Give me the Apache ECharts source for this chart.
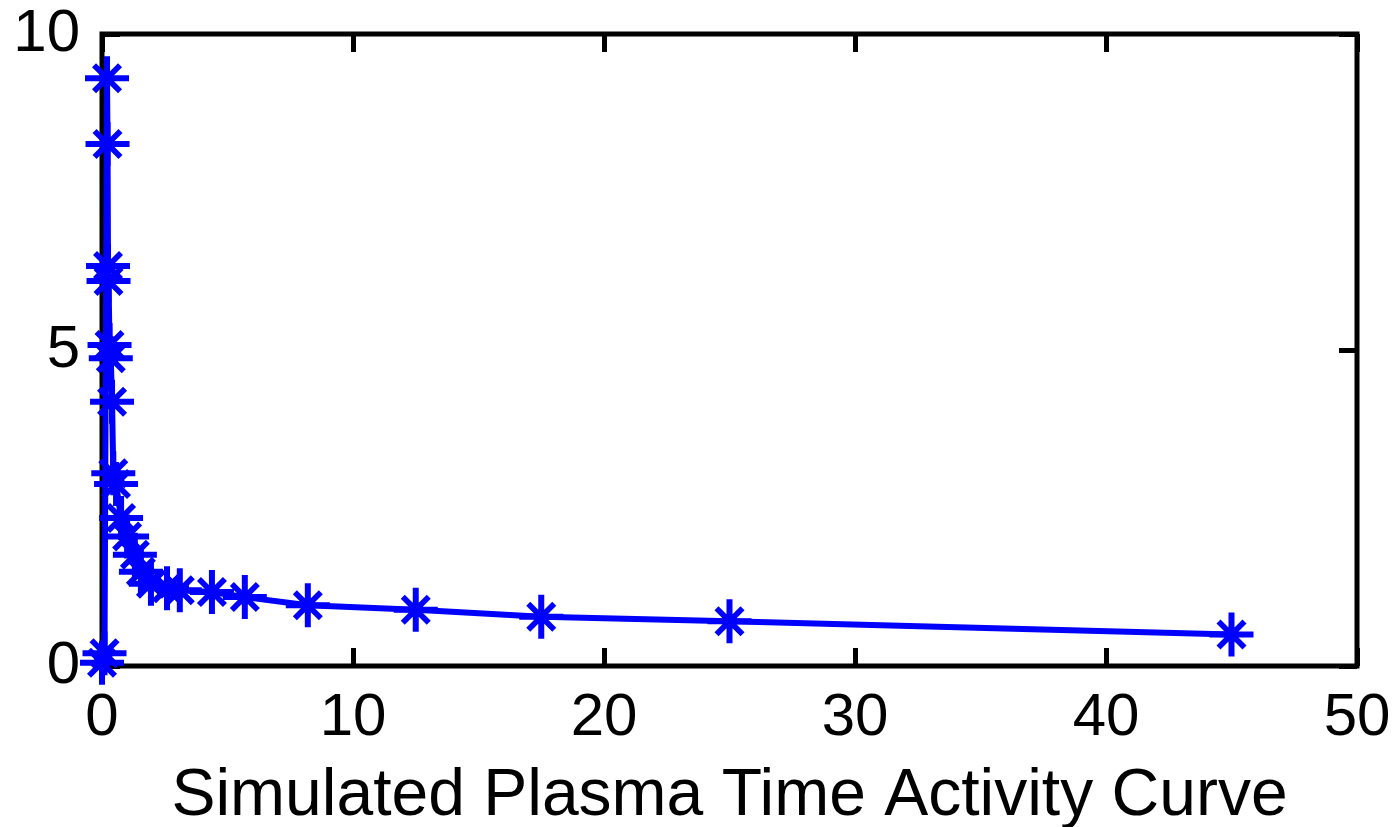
<!DOCTYPE html>
<html>
<head>
<meta charset="utf-8">
<script src="https://cdn.jsdelivr.net/npm/echarts@6/dist/echarts.min.js"></script>
<style>
html,body{margin:0;padding:0;background:#fff;}
#chart{width:1397px;height:827px;}
</style>
</head>
<body>
<div id="chart"></div>
<script>
// Sample times (minutes) and plasma activity values
const timeMin = [0, 0.1, 0.2, 0.22, 0.24, 0.26, 0.3, 0.35, 0.4, 0.45, 0.56, 0.76, 1.0, 1.31, 1.55, 1.95, 2.59, 3.1, 4.38, 5.69, 8.2, 12.5, 17.5, 25, 45];
const activity = [0.05, 0.2, 9.3, 8.26, 6.33, 6.09, 5.08, 4.87, 4.18, 3.05, 2.88, 2.34, 2.05, 1.76, 1.49, 1.3, 1.23, 1.2, 1.17, 1.09, 0.96, 0.89, 0.78, 0.71, 0.5];
const xTicks = [0, 10, 20, 30, 40, 50];
const yTicks = [0, 5, 10];
const xTitle = 'Simulated Plasma Time Activity Curve';

const points = timeMin.map((t, i) => [t, activity[i]]);
const asterisk = 'path://M0 19H44V25H0Z M19 0H25V44H19Z M7 11L11 7L37 33L33 37Z M33 7L37 11L11 37L7 33Z';

const fontFam = '"Liberation Sans", Arial, sans-serif';
const chart = echarts.init(document.getElementById('chart'), null, {renderer: 'canvas'});

const baseX = {
  type: 'value', min: xTicks[0], max: xTicks[xTicks.length - 1], interval: 10,
  axisLine: {show: false, onZero: false},
  axisTick: {show: true, inside: true, length: 18, lineStyle: {color: '#000', width: 5}},
  splitLine: {show: false}
};
const baseY = {
  type: 'value', min: yTicks[0], max: yTicks[yTicks.length - 1], interval: 5,
  axisLine: {show: false, onZero: false},
  axisTick: {show: true, inside: true, length: 18, lineStyle: {color: '#000', width: 5}},
  splitLine: {show: false}
};

chart.setOption({
  animation: false,
  backgroundColor: '#fff',
  grid: {left: 102, right: 40, top: 34, bottom: 161, show: true, borderColor: '#000', borderWidth: 5, backgroundColor: 'transparent', containLabel: false, outerBoundsMode: 'none'},
  xAxis: [
    Object.assign({}, baseX, {
      position: 'bottom',
      axisLabel: {show: true, margin: 22, fontSize: 60, color: '#000', fontFamily: fontFam},
      name: xTitle, nameLocation: 'middle', nameGap: 98,
      nameTextStyle: {fontSize: 66, color: '#000', fontFamily: fontFam}
    }),
    Object.assign({}, baseX, {position: 'top', axisLabel: {show: false}})
  ],
  yAxis: [
    Object.assign({}, baseY, {
      position: 'left',
      axisLabel: {show: true, margin: 22, fontSize: 60, color: '#000', fontFamily: fontFam}
    }),
    Object.assign({}, baseY, {position: 'right', axisLabel: {show: false}})
  ],
  series: [{
    type: 'line',
    data: points,
    xAxisIndex: 0, yAxisIndex: 0,
    showAllSymbol: true,
    symbol: asterisk,
    symbolSize: 44,
    symbolKeepAspect: true,
    clip: false,
    lineStyle: {color: '#0000ff', width: 6},
    itemStyle: {color: '#0000ff', borderWidth: 0},
    z: 3
  }]
});
</script>
</body>
</html>
